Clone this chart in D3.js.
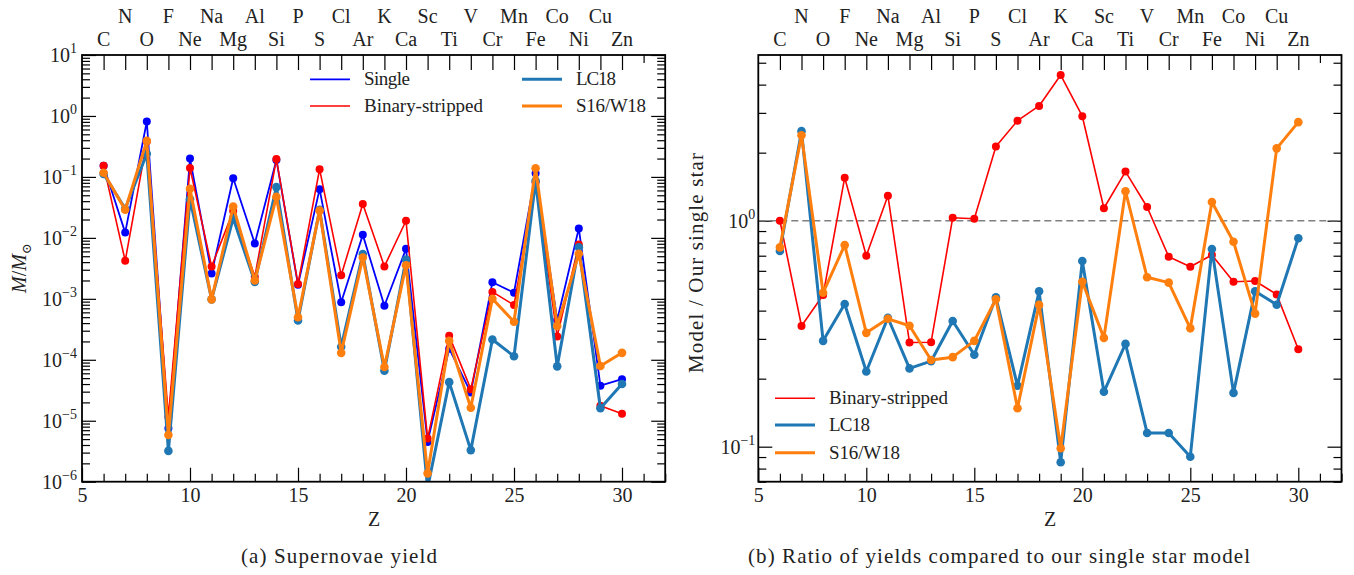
<!DOCTYPE html>
<html><head><meta charset="utf-8">
<script src="https://cdn.jsdelivr.net/npm/d3@7"></script>
<style>
html,body{margin:0;padding:0;background:#fff;}
svg text{font-family:"Liberation Serif","DejaVu Serif",serif;fill:#222;}
</style></head>
<body><svg id="c" width="1354" height="575"></svg>
<script>
const Z = [6,7,8,9,10,11,12,13,14,15,16,17,18,19,20,21,22,23,24,25,26,27,28,29,30];
const elements = ["C","N","O","F","Ne","Na","Mg","Al","Si","P","S","Cl","Ar","K","Ca","Sc","Ti","V","Cr","Mn","Fe","Co","Ni","Cu","Zn"];
// (a) supernova yields [Msun]
const single = [0.153,0.0122,0.81,7.5e-6,0.20,0.0026,0.095,0.0081,0.19,0.0017,0.063,8.8e-4,0.0112,7.7e-4,0.0066,4.5e-6,1.52e-4,2.9e-5,0.00187,0.00126,0.115,4.5e-4,0.0143,3.76e-5,4.8e-5];
const binary = [0.153,0.0042,0.38,1.16e-5,0.14,0.0034,0.0275,0.0023,0.196,0.00175,0.134,0.00244,0.036,0.0034,0.0191,5.1e-6,2.47e-4,3.3e-5,0.0013,7.9e-4,0.081,2.42e-4,0.0078,1.77e-5,1.3e-5];
const lc18 = [0.112,0.0300,0.24,3.2e-6,0.043,9.8e-4,0.021,0.0019,0.068,4.4e-4,0.029,1.64e-4,0.00545,6.6e-5,0.0044,7.9e-7,4.3e-5,3.3e-6,2.15e-4,1.14e-4,0.086,7.8e-5,0.0070,1.6e-5,4.0e-5];
const s16w18 = [0.117,0.029,0.39,5.85e-6,0.064,9.8e-4,0.0326,0.0020,0.047,5.0e-4,0.028,1.30e-4,0.00475,7.6e-5,0.00355,1.37e-6,2.04e-4,1.63e-5,0.0010,4.2e-4,0.139,3.6e-4,0.0055,7.9e-5,1.3e-4];
// (b) ratios to single-star model
const ratioBinary = [1.0,0.342,0.469,1.55,0.70,1.29,0.289,0.29,1.03,1.02,2.13,2.77,3.22,4.41,2.90,1.135,1.65,1.15,0.693,0.626,0.705,0.537,0.541,0.472,0.27];
const ratioLC18 = [0.734,2.49,0.294,0.428,0.215,0.372,0.222,0.239,0.36,0.255,0.458,0.186,0.487,0.0853,0.663,0.175,0.285,0.115,0.115,0.0903,0.75,0.173,0.487,0.425,0.836];
const ratioS16 = [0.762,2.39,0.48,0.78,0.319,0.368,0.343,0.242,0.249,0.294,0.449,0.148,0.424,0.0984,0.537,0.303,1.35,0.562,0.532,0.334,1.21,0.807,0.388,2.09,2.73];
const xTicks = [5,10,15,20,25,30];
const leftYTicks = [-6,-5,-4,-3,-2,-1,0,1];
const rightYTicks = [-1,0];

const C = {single:"#0000ff", binary:"#ff0000", lc:"#1f77b4", s16:"#ff7f0e"};
const svg = d3.select("#c");

function panel(opts){
  const {x0,x1,y0,y1,yDomain,yMajor,series,clipId} = opts;
  const g = svg.append("g");
  const x = d3.scaleLinear().domain([5,32]).range([x0,x1]);
  const y = d3.scaleLog().domain(yDomain).range([y1,y0]);
  const lo = Math.floor(Math.log10(yDomain[0])), hi = Math.ceil(Math.log10(yDomain[1]));
  const minorY = [];
  for(let e=lo;e<=hi;e++) for(let m=2;m<=9;m++){const v=m*Math.pow(10,e); if(v>=yDomain[0]&&v<=yDomain[1]) minorY.push(v);}
  const majorY = yMajor.map(e=>Math.pow(10,e));
  const minorX = d3.range(5,33).filter(v=>v%5!==0);
  const ax = (gen)=>g.append("g").call(gen).call(s=>s.select(".domain").remove());
  const bx = ax(d3.axisBottom(x).tickValues(xTicks).tickSize(-14).tickPadding(6).tickFormat(d3.format("d"))).attr("transform",`translate(0,${y1})`);
  bx.selectAll("text").style("font-size","20px").attr("fill","#222");
  ax(d3.axisBottom(x).tickValues(minorX).tickSize(-8).tickFormat("")).attr("transform",`translate(0,${y1})`);
  ax(d3.axisTop(x).tickValues(Z).tickSize(-15).tickFormat("")).attr("transform",`translate(0,${y0})`);
  ax(d3.axisTop(x).tickValues([31]).tickSize(-8).tickFormat("")).attr("transform",`translate(0,${y0})`);
  Z.forEach((z,i)=>{
    g.append("text").attr("x",x(z)).attr("y", i%2===0 ? y0-9 : y0-32)
      .attr("text-anchor","middle").style("font-size","20px").text(elements[i]);
  });
  ax(d3.axisLeft(y).tickValues(majorY).tickSize(-14).tickFormat("")).attr("transform",`translate(${x0},0)`);
  ax(d3.axisLeft(y).tickValues(minorY).tickSize(-8).tickFormat("")).attr("transform",`translate(${x0},0)`);
  ax(d3.axisRight(y).tickValues(majorY).tickSize(-14).tickFormat("")).attr("transform",`translate(${x1},0)`);
  ax(d3.axisRight(y).tickValues(minorY).tickSize(-8).tickFormat("")).attr("transform",`translate(${x1},0)`);
  g.selectAll(".tick line").attr("stroke","#000").attr("stroke-width",1.2);
  yMajor.forEach(e=>{
    const t = g.append("text").attr("x",x0-opts.labPad).attr("y",y(Math.pow(10,e))+7)
      .attr("text-anchor","end").style("font-size","20px");
    t.append("tspan").text("10");
    t.append("tspan").attr("dy",-9).style("font-size","14px").text(e<0?"\u2212"+(-e):String(e));
  });
  svg.append("defs").append("clipPath").attr("id",clipId).append("rect")
    .attr("x",x0).attr("y",y0).attr("width",x1-x0).attr("height",y1-y0);
  const pg = g.append("g").attr("clip-path",`url(#${clipId})`);
  if(opts.refLine){
    pg.append("line").attr("x1",x0).attr("x2",x1).attr("y1",y(1)).attr("y2",y(1))
      .attr("stroke","#808080").attr("stroke-width",1.6).attr("stroke-dasharray","7,4");
  }
  const line = d3.line().x((d,i)=>x(Z[i])).y(d=>y(d));
  series.forEach(s=>{
    pg.append("path").datum(s.data).attr("d",line).attr("fill","none")
      .attr("stroke",s.color).attr("stroke-width",s.w).attr("stroke-linejoin","round");
    pg.selectAll(null).data(s.data).join("circle").attr("cx",(d,i)=>x(Z[i])).attr("cy",d=>y(d))
      .attr("r",s.r).attr("fill",s.color);
  });
  g.append("rect").attr("x",x0).attr("y",y0).attr("width",x1-x0).attr("height",y1-y0)
    .attr("fill","none").attr("stroke","#000").attr("stroke-width",1.8);
  return {g,x,y};
}

const A = panel({x0:82,x1:665.2,y0:55,y1:481.7,yDomain:[1e-6,10],yMajor:leftYTicks,labPad:5,clipId:"ca",
  series:[
    {data:single,color:C.single,w:1.8,r:4},
    {data:binary,color:C.binary,w:1.6,r:4},
    {data:lc18,color:C.lc,w:3,r:4.3},
    {data:s16w18,color:C.s16,w:3,r:4.3}
  ]});
const B = panel({x0:758.3,x1:1341.5,y0:55,y1:481.7,yDomain:[0.070,5.41],yMajor:rightYTicks,labPad:3,clipId:"cb",refLine:true,
  series:[
    {data:ratioBinary,color:C.binary,w:1.6,r:4},
    {data:ratioLC18,color:C.lc,w:3,r:4.3},
    {data:ratioS16,color:C.s16,w:3,r:4.3}
  ]});

function legItem(g,x1,x2,y,color,w,label,len){
  g.append("line").attr("x1",x1).attr("x2",x2).attr("y1",y).attr("y2",y).attr("stroke",color).attr("stroke-width",w);
  g.append("text").attr("x",x2+14).attr("y",y+6).style("font-size","19px")
    .attr("textLength",len).attr("lengthAdjust","spacing").text(label);
}
legItem(A.g,310,350,79.3,C.single,1.8,"Single",46);
legItem(A.g,310,350,106,C.binary,1.6,"Binary-stripped",119);
legItem(A.g,522,562,79.3,C.lc,3,"LC18",40);
legItem(A.g,522,562,106,C.s16,3,"S16/W18",70);
legItem(B.g,775,815,398.3,C.binary,1.6,"Binary-stripped",119);
legItem(B.g,775,815,425,C.lc,3,"LC18",41);
legItem(B.g,775,815,452.7,C.s16,3,"S16/W18",71);

svg.append("text").attr("x",374).attr("y",526).attr("text-anchor","middle").style("font-size","20px").text("Z");
svg.append("text").attr("x",1050).attr("y",526).attr("text-anchor","middle").style("font-size","20px").text("Z");
const yl = svg.append("text").attr("transform","translate(26,268) rotate(-90)").attr("text-anchor","middle").style("font-size","20px");
yl.append("tspan").style("font-style","italic").text("M");
yl.append("tspan").text("/");
yl.append("tspan").style("font-style","italic").text("M");
yl.append("tspan").attr("dy",5).style("font-size","13px").text("\u2299");
svg.append("text").attr("transform","translate(703,263) rotate(-90)").attr("text-anchor","middle").style("font-size","21px")
  .attr("textLength",220).attr("lengthAdjust","spacing").text("Model / Our single star");
svg.append("text").attr("x",241).attr("y",563).style("font-size","21px")
  .attr("textLength",196).attr("lengthAdjust","spacing").text("(a) Supernovae yield");
svg.append("text").attr("x",748).attr("y",563).style("font-size","21px")
  .attr("textLength",502).attr("lengthAdjust","spacing").text("(b) Ratio of yields compared to our single star model");
</script></body></html>
